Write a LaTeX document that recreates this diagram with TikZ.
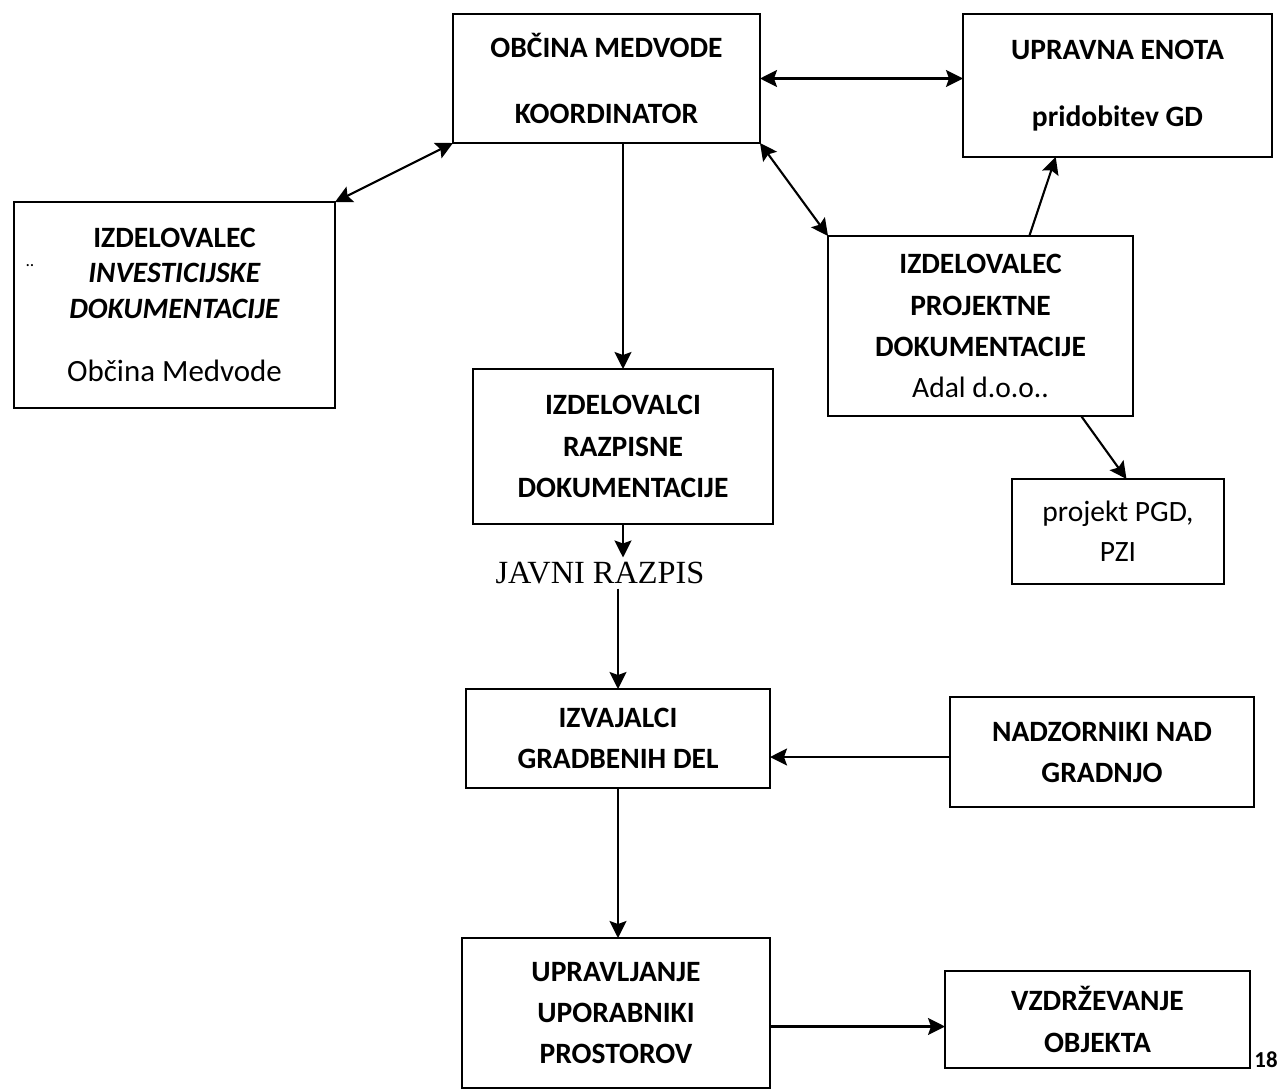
\documentclass[tikz,border=0pt]{standalone}
\usepackage{fontspec}
\setmainfont{Carlito}
\newfontfamily\serifrm{Liberation Serif}
\usetikzlibrary{calc,arrows.meta}

\tikzset{
  box/.style={draw, thick, rectangle, inner sep=0pt, outer sep=0pt, align=center,
    font=\fontsize{8.4}{11.7}\selectfont\bfseries},
}

\begin{document}
\begin{tikzpicture}[>={Stealth[length=1.7mm,width=1.7mm,inset=0.3mm]}, semithick]
\useasboundingbox (0,0) rectangle (12.79,-10.91);
\node[box, minimum width=3.07cm, minimum height=1.29cm] (koord) at (6.065,-0.785) {OBČINA MEDVODE\\[7.3pt]KOORDINATOR};
\node[box, minimum width=3.09cm, minimum height=1.43cm] (enota) at (11.175,-0.855) {UPRAVNA ENOTA\\[7.3pt]pridobitev GD};
\node[box, minimum width=3.21cm, minimum height=2.06cm, font=\fontsize{8.4}{10}\selectfont\bfseries] (invest) at (1.745,-3.05) {IZDELOVALEC\\\textit{INVESTICIJSKE}\\\textit{DOKUMENTACIJE}\\[8pt]{\mdseries\fontsize{8.8}{10}\selectfont Občina Medvode}};
\node[box, minimum width=3.05cm, minimum height=1.80cm] (projekt) at (9.805,-3.26) {IZDELOVALEC\\PROJEKTNE\\DOKUMENTACIJE\\{\mdseries Adal d.o.o..}};
\node[box, minimum width=3.00cm, minimum height=1.55cm] (razpis) at (6.23,-4.465) {IZDELOVALCI\\RAZPISNE\\DOKUMENTACIJE};
\node[box, minimum width=2.12cm, minimum height=1.05cm, font=\fontsize{8.4}{11.5}\selectfont] (pgd) at (11.18,-5.315) {projekt PGD,\\PZI};
\node[font=\serifrm\fontsize{9.2}{11}\selectfont, inner sep=1pt] (javni) at (6.00,-5.73) {JAVNI RAZPIS};
\node[box, minimum width=3.04cm, minimum height=0.99cm] (izvaj) at (6.18,-7.385) {IZVAJALCI\\GRADBENIH DEL};
\node[box, minimum width=3.04cm, minimum height=1.10cm] (nadzor) at (11.02,-7.52) {NADZORNIKI NAD\\GRADNJO};
\node[box, minimum width=3.08cm, minimum height=1.50cm] (upravlj) at (6.16,-10.13) {UPRAVLJANJE\\UPORABNIKI\\PROSTOROV};
\node[box, minimum width=3.05cm, minimum height=0.97cm] (vzdrz) at (10.975,-10.195) {VZDRŽEVANJE\\OBJEKTA};
\node[font=\fontsize{6.5}{7}\selectfont\bfseries] at (12.66,-10.60) {18};
\node[font=\fontsize{5}{6}\selectfont] at (0.30,-2.66) {..};

\coordinate (nadzorin) at ($(nadzor.west)+(0,-0.05)$);
\coordinate (vzdrzin) at ($(vzdrz.west)+(0,-0.07)$);

\draw[<->] (koord.east) -- (koord.east -| enota.west);
\draw[<->] (koord.south west) -- (invest.north east);
\draw[<->] (koord.south east) -- (projekt.north west);
\draw[->] (razpis.north |- koord.south) -- (razpis.north);
\draw[->] ($(projekt.north west)!0.66!(projekt.north east)$) -- ($(enota.south west)!0.30!(enota.south east)$);
\draw[->] ($(projekt.south west)!0.83!(projekt.south east)$) -- ($(pgd.north west)!0.54!(pgd.north east)$);
\draw[->] (razpis.south) -- (razpis.south |- javni.north);
\draw[->] (izvaj.north |- javni.south) -- (izvaj.north);
\draw[->] (nadzorin) -- (nadzorin -| izvaj.east);
\draw[->] (izvaj.south) -- (izvaj.south |- upravlj.north);
\draw[->] (vzdrzin -| upravlj.east) -- (vzdrzin);
\end{tikzpicture}
\end{document}
